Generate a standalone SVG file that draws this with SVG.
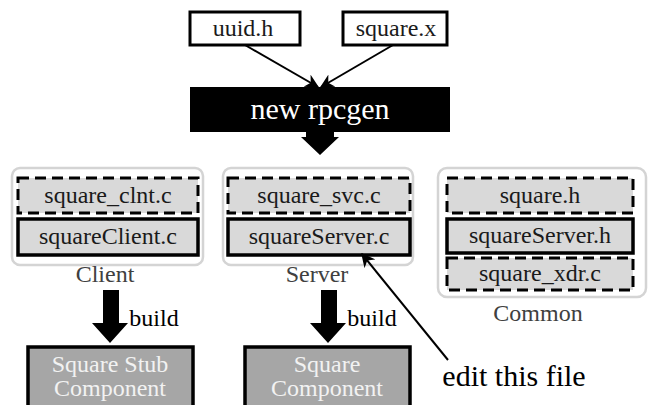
<svg xmlns="http://www.w3.org/2000/svg" width="648" height="405" viewBox="0 0 648 405" font-family="Liberation Serif, serif">
  <defs>
    <style>
      text { text-anchor: middle; }
      .src { fill: #ffffff; stroke: #000; stroke-width: 3; }
      .file { font-size: 24px; fill: #1a1a1a; }
      .group { fill: #ffffff; stroke: #d4d4d4; stroke-width: 2.5; }
      .gen { fill: #d9d9d9; stroke: #000; stroke-width: 3; stroke-dasharray: 11 6; }
      .user { fill: #d9d9d9; stroke: #000; stroke-width: 3.5; }
      .glabel { font-size: 24px; fill: #404040; }
      .comp { fill: #a6a6a6; stroke: #000; stroke-width: 3.5; }
      .ctext { font-size: 24px; fill: #f2f2f2; }
      .thin { stroke: #000; stroke-width: 2; fill: none; }
      .block { fill: #000; }
      .build { font-size: 24px; fill: #000; }
      .note { font-size: 30px; fill: #000; }
    </style>
    <marker id="tipBig" viewBox="0 0 10 10" refX="9" refY="5" markerWidth="14" markerHeight="14" orient="auto" markerUnits="userSpaceOnUse">
      <path d="M0,0 L10,5 L0,10 L3,5 z" fill="#000"/>
    </marker>
  </defs>

  <!-- inputs -->
  <g id="uuid_h">
    <rect class="src" x="190" y="12" width="110" height="33"/>
    <text class="file" x="243" y="36">uuid.h</text>
  </g>
  <g id="square_x">
    <rect class="src" x="343" y="12" width="104" height="33"/>
    <text class="file" x="396" y="36">square.x</text>
  </g>

  <!-- generator -->
  <g id="rpcgen">
    <rect x="190" y="87" width="260" height="45" fill="#000"/>
    <text x="320" y="119" font-size="30" fill="#ffffff">new rpcgen</text>
  </g>

  <!-- client side -->
  <g id="client">
    <rect class="group" x="12" y="168" width="191" height="97" rx="8"/>
    <rect class="gen" x="18" y="178" width="180" height="35"/>
    <text class="file" x="108" y="203">square_clnt.c</text>
    <rect class="user" x="18" y="219" width="180" height="36"/>
    <text class="file" x="108" y="244">squareClient.c</text>
    <text class="glabel" x="105" y="282">Client</text>
  </g>

  <!-- server side -->
  <g id="server">
    <rect class="group" x="223" y="168" width="190" height="97" rx="8"/>
    <rect class="gen" x="228" y="178" width="182" height="35"/>
    <text class="file" x="319" y="203">square_svc.c</text>
    <rect class="user" x="228" y="219" width="182" height="36"/>
    <text class="file" x="319" y="244">squareServer.c</text>
    <text class="glabel" x="317" y="282">Server</text>
  </g>

  <!-- shared headers -->
  <g id="common">
    <rect class="group" x="438" y="168" width="208" height="129" rx="9"/>
    <rect class="gen" x="447" y="178" width="186" height="35"/>
    <text class="file" x="540" y="203">square.h</text>
    <rect class="user" x="447" y="219" width="186" height="34"/>
    <text class="file" x="540" y="243">squareServer.h</text>
    <rect class="gen" x="447" y="258" width="186" height="32"/>
    <text class="file" x="540" y="281">square_xdr.c</text>
    <text class="glabel" x="538" y="321">Common</text>
  </g>

  <!-- build outputs -->
  <g id="stub_component">
    <rect class="comp" x="28" y="347" width="165" height="70"/>
    <text class="ctext" x="110" y="372">Square Stub</text>
    <text class="ctext" x="110" y="396">Component</text>
  </g>
  <g id="square_component">
    <rect class="comp" x="245" y="347" width="165" height="70"/>
    <text class="ctext" x="327" y="372">Square</text>
    <text class="ctext" x="327" y="396">Component</text>
  </g>

  <g id="edit_note">
    <text class="note" x="514" y="386">edit this file</text>
  </g>

  <!-- connectors -->
  <g id="connectors">
    <line class="thin" x1="245" y1="45" x2="318" y2="87" marker-end="url(#tipBig)"/>
    <line class="thin" x1="393" y1="45" x2="321" y2="87" marker-end="url(#tipBig)"/>
    <path class="block" d="M306,132 H334 V137 H339 L320,155 L301,137 H306 Z"/>
    <path class="block" d="M103,290 H119 V323 H128 L110,343 L92,323 H103 Z"/>
    <text class="build" x="154" y="326">build</text>
    <path class="block" d="M321,290 H337 V323 H346 L328,343 L310,323 H321 Z"/>
    <text class="build" x="372" y="326">build</text>
    <line class="thin" x1="448" y1="360" x2="362" y2="254" marker-end="url(#tipBig)"/>
  </g>
</svg>
